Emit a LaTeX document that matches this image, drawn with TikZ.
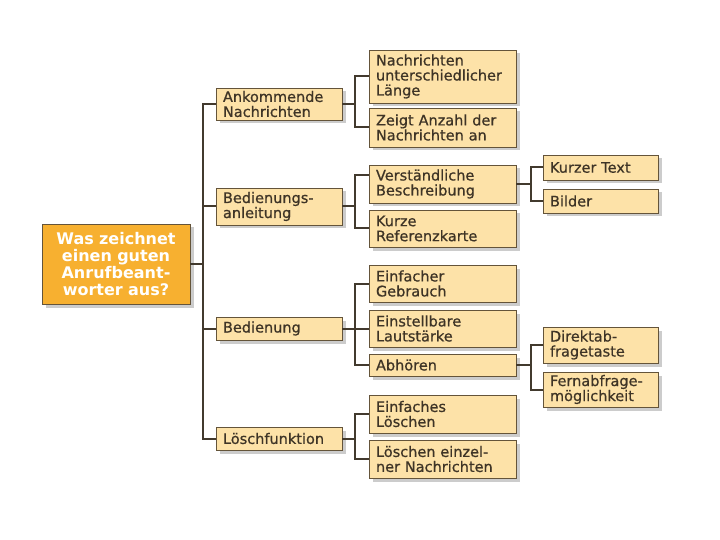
\documentclass[tikz,border=0pt]{standalone}
\usepackage{fontspec}
\setmainfont{DejaVu Sans}
\newfontfamily\boxfont{DejaVu Sans}[FakeBold=0.7]
\usetikzlibrary{positioning, shadows}
\definecolor{boxcol}{RGB}{253, 226, 168}
\definecolor{rootcol}{RGB}{247, 176, 48}
\definecolor{edgecol}{RGB}{100, 84, 58}
\definecolor{linecol}{RGB}{66, 58, 46}
\definecolor{txtcol}{RGB}{62, 52, 38}

\begin{document}
\begin{tikzpicture}[x=1pt, y=-1pt,
      box/.style={rectangle,fill=boxcol,draw=edgecol,line width=0.9pt,inner xsep=7pt,inner ysep=2pt,align=left,
        text=txtcol,font=\boxfont\fontsize{14.5}{15}\selectfont,drop shadow={shadow xshift=3.5pt,shadow yshift=-3.5pt,fill=black!40}},
      lvlone/.style={box,text width=112pt},
      lvltwo/.style={box,text width=133pt},
      lvlthree/.style={box,text width=101pt},
      rootbox/.style={box,fill=rootcol,text=white,align=center,text width=134pt,minimum height=80pt,
        font=\bfseries\fontsize{16}{17}\selectfont},
      conn/.style={draw=linecol,line width=2pt}]
    \useasboundingbox (0,0) rectangle (720,540);
    % root and first column
    \node[rootbox] (root) at (116, 264) {Was zeichnet\\einen guten\\Anrufbeant-\\worter aus?};
    \node[lvlone, minimum height=32pt] (ank)    at (279, 104)   {Ankommende\\Nachrichten};
    \node[lvlone, minimum height=37pt] (bed)    at (279, 206.5) {Bedienungs-\\anleitung};
    \node[lvlone, minimum height=23pt] (bedn)   at (279, 328.5) {Bedienung};
    \node[lvlone, minimum height=23pt] (loesch) at (279, 438.5) {Löschfunktion};
    % second column
    \node[lvltwo, minimum height=53pt] (nul)     at (442.5, 76.5)  {Nachrichten\\unterschiedlicher\\Länge};
    \node[lvltwo, minimum height=39pt] (zan)     at (442.5, 127.5) {Zeigt Anzahl der\\Nachrichten an};
    \node[lvltwo, minimum height=38pt] (ver)     at (442.5, 184)   {Verständliche\\Beschreibung};
    \node[lvltwo, minimum height=37pt] (kref)    at (442.5, 228.5) {Kurze\\Referenzkarte};
    \node[lvltwo, minimum height=37pt] (egeb)    at (442.5, 283.5) {Einfacher\\Gebrauch};
    \node[lvltwo, minimum height=37pt] (elaut)   at (442.5, 328.5) {Einstellbare\\Lautstärke};
    \node[lvltwo, minimum height=22pt] (abh)     at (442.5, 365)   {Abhören};
    \node[lvltwo, minimum height=38pt] (eloesch) at (442.5, 414)   {Einfaches\\Löschen};
    \node[lvltwo, minimum height=38pt] (lein)    at (442.5, 459)   {Löschen einzel-\\ner Nachrichten};
    % third column
    \node[lvlthree, minimum height=25pt] (ktext)  at (600.5, 167.5) {Kurzer Text};
    \node[lvlthree, minimum height=24pt] (bilder) at (600.5, 201)   {Bilder};
    \node[lvlthree, minimum height=36pt] (dtaste) at (600.5, 345)   {Direktab-\\fragetaste};
    \node[lvlthree, minimum height=35pt] (fern)   at (600.5, 389.5) {Fernabfrage-\\möglichkeit};
    % bracket positions
    \coordinate (trunk) at (203, 264);
    \coordinate (brtwo) at (355, 0);
    \coordinate (brthree) at (531, 0);
    % trunk
    \draw[conn] (root.east) -- (trunk);
    \draw[conn] (ank.west) -- (ank.west -| trunk) -- (loesch.west -| trunk) -- (loesch.west);
    \draw[conn] (bed.west) -- (bed.west -| trunk);
    \draw[conn] (bedn.west) -- (bedn.west -| trunk);
    % brackets to second column
    \draw[conn] (ank.east) -- (ank.east -| brtwo);
    \draw[conn] (nul.west) -- (nul.west -| brtwo) -- (zan.west -| brtwo) -- (zan.west);
    \draw[conn] (bed.east) -- (bed.east -| brtwo);
    \draw[conn] ([yshift=9pt]ver.west) -- ([yshift=9pt]ver.west -| brtwo) -- (kref.west -| brtwo) -- (kref.west);
    \draw[conn] (bedn.east) -- (bedn.east -| brtwo);
    \draw[conn] (egeb.west) -- (egeb.west -| brtwo) -- (abh.west -| brtwo) -- (abh.west);
    \draw[conn] (elaut.west) -- (elaut.west -| brtwo);
    \draw[conn] (loesch.east) -- (loesch.east -| brtwo);
    \draw[conn] (eloesch.west) -- (eloesch.west -| brtwo) -- (lein.west -| brtwo) -- (lein.west);
    % brackets to third column
    \draw[conn] (ver.east) -- (ver.east -| brthree);
    \draw[conn] (ktext.west) -- (ktext.west -| brthree) -- (bilder.west -| brthree) -- (bilder.west);
    \draw[conn] (abh.east) -- (abh.east -| brthree);
    \draw[conn] (dtaste.west) -- (dtaste.west -| brthree) -- (fern.west -| brthree) -- (fern.west);
  \end{tikzpicture}
\end{document}
